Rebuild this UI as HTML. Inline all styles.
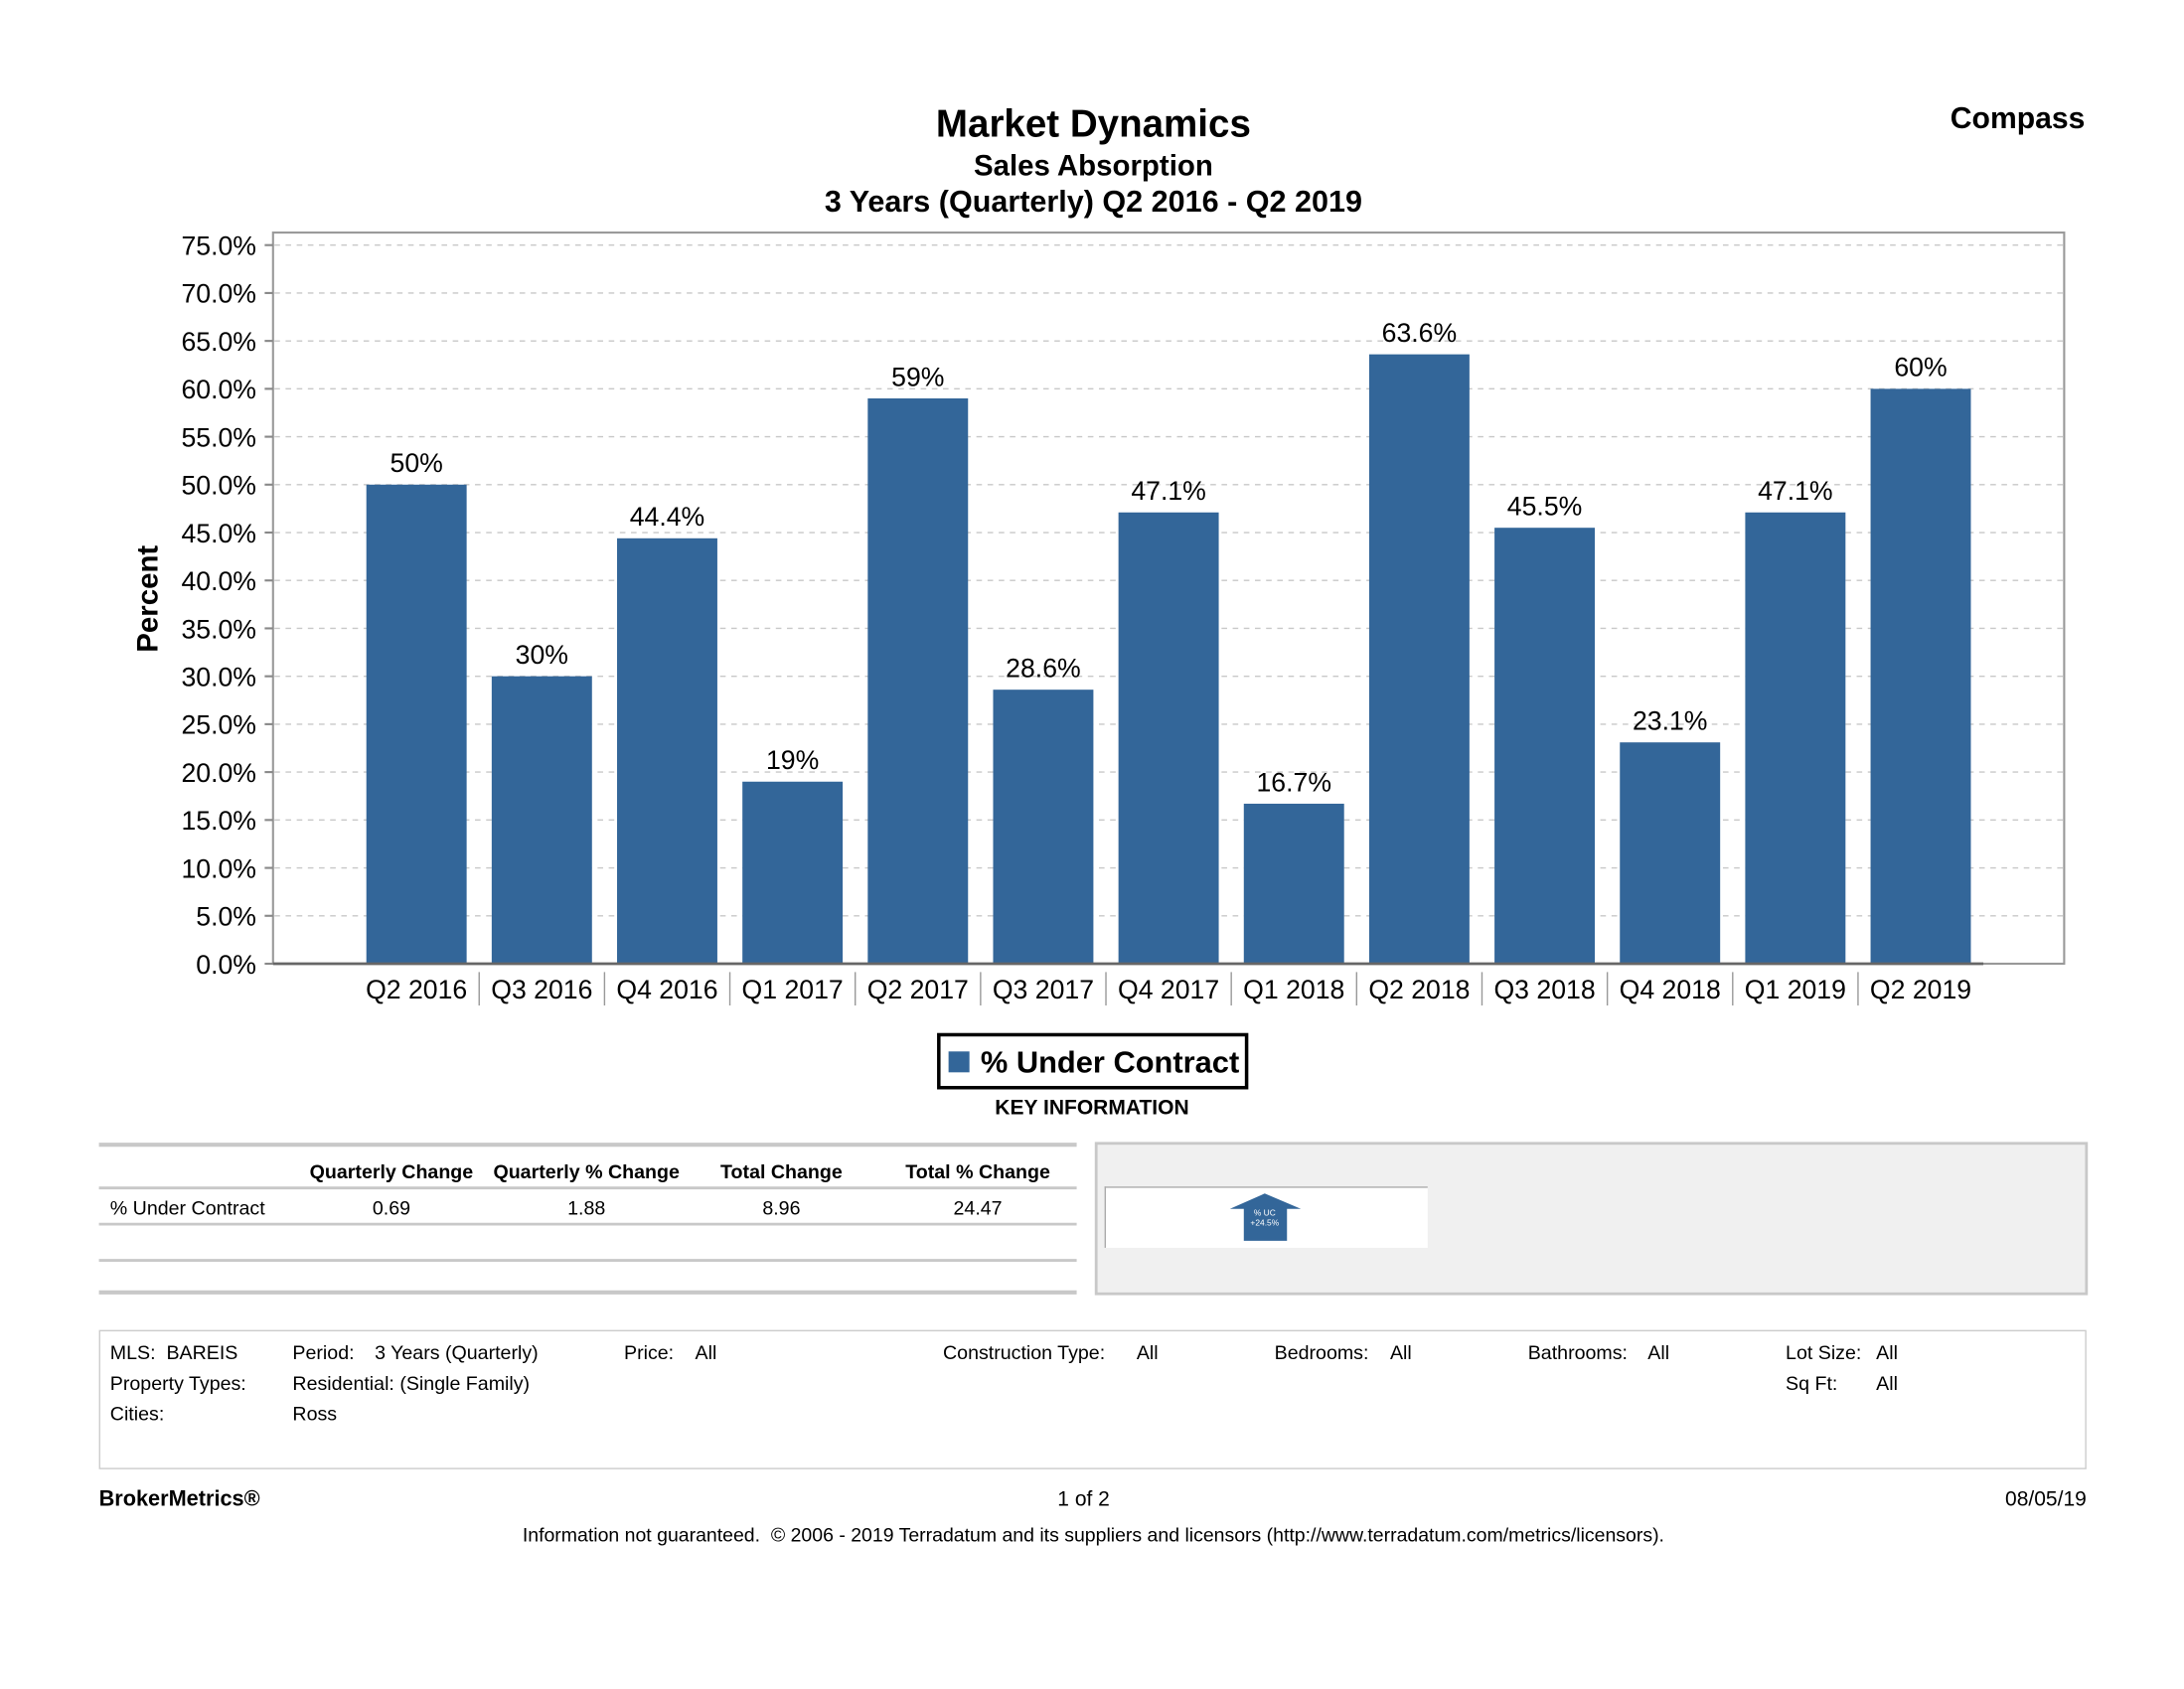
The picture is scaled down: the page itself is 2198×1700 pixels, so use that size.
<!DOCTYPE html>
<html><head><meta charset="utf-8"><style>
html,body{margin:0;padding:0;background:#fff;}
svg{display:block;font-family:"Liberation Sans",Arial,sans-serif;}
</style></head><body>
<svg id="page" width="2198" height="1700" viewBox="0 0 1568 1212.8" xmlns="http://www.w3.org/2000/svg">
<text x="785" y="98" text-anchor="middle" font-size="27.5" font-weight="bold">Market Dynamics</text>
<text x="785" y="126" text-anchor="middle" font-size="21" font-weight="bold">Sales Absorption</text>
<text x="785" y="152" text-anchor="middle" font-size="21.8" font-weight="bold">3 Years (Quarterly) Q2 2016 - Q2 2019</text>
<text x="1497" y="92" text-anchor="end" font-size="21.5" font-weight="bold">Compass</text>
<rect x="196" y="167" width="1286" height="525" fill="#fff" stroke="#999" stroke-width="1.5"/>
<g id="grid"></g><g id="bars"></g><g id="xaxis"></g>
<text transform="translate(113,430) rotate(-90)" text-anchor="middle" font-size="21" font-weight="bold">Percent</text>
<g>
<rect x="674" y="743" width="221" height="38" fill="#fff" stroke="#000" stroke-width="2.5"/>
<rect x="681" y="755" width="15" height="15" fill="#336699"/>
<text x="704" y="770" font-size="22" font-weight="bold">% Under Contract</text>
</g>
<text x="784" y="800" text-anchor="middle" font-size="15" font-weight="bold">KEY INFORMATION</text>
<g font-size="14">
<line x1="71" y1="822" x2="773" y2="822" stroke="#c8c8c8" stroke-width="3"/>
<text x="281" y="846" text-anchor="middle" font-weight="bold">Quarterly Change</text>
<text x="421" y="846" text-anchor="middle" font-weight="bold">Quarterly % Change</text>
<text x="561" y="846" text-anchor="middle" font-weight="bold">Total Change</text>
<text x="702" y="846" text-anchor="middle" font-weight="bold">Total % Change</text>
<line x1="71" y1="853" x2="773" y2="853" stroke="#c8c8c8" stroke-width="2"/>
<text x="79" y="872">% Under Contract</text>
<text x="281" y="872" text-anchor="middle">0.69</text>
<text x="421" y="872" text-anchor="middle">1.88</text>
<text x="561" y="872" text-anchor="middle">8.96</text>
<text x="702" y="872" text-anchor="middle">24.47</text>
<line x1="71" y1="879" x2="773" y2="879" stroke="#c8c8c8" stroke-width="2"/>
<line x1="71" y1="905" x2="773" y2="905" stroke="#c8c8c8" stroke-width="2"/>
<line x1="71" y1="928" x2="773" y2="928" stroke="#c8c8c8" stroke-width="3"/>
</g>
<g>
<rect x="787" y="821" width="711" height="108" fill="#f0f0f0" stroke="#c8c8c8" stroke-width="2"/>
<rect x="793" y="852" width="232" height="44" fill="#fff"/>
<line x1="793" y1="852.5" x2="1025" y2="852.5" stroke="#aaa" stroke-width="1"/>
<line x1="793.5" y1="852" x2="793.5" y2="896" stroke="#aaa" stroke-width="1"/>
<polygon points="908,857 934,868 924,868 924,891 893,891 893,868 883,868" fill="#336699"/>
<text x="908" y="873" text-anchor="middle" font-size="6" fill="#fff">% UC</text>
<text x="908" y="880" text-anchor="middle" font-size="6" fill="#fff">+24.5%</text>
</g>
<g font-size="14">
<rect x="71.5" y="955.5" width="1426" height="99" fill="#fff" stroke="#ccc" stroke-width="1"/>
<text x="79" y="976">MLS:&#160; BAREIS</text>
<text x="210" y="976">Period:</text><text x="269" y="976">3 Years (Quarterly)</text>
<text x="448" y="976">Price:</text><text x="499" y="976">All</text>
<text x="677" y="976">Construction Type:</text><text x="816" y="976">All</text>
<text x="915" y="976">Bedrooms:</text><text x="998" y="976">All</text>
<text x="1097" y="976">Bathrooms:</text><text x="1183" y="976">All</text>
<text x="1282" y="976">Lot Size:</text><text x="1347" y="976">All</text>
<text x="79" y="998">Property Types:</text><text x="210" y="998">Residential: (Single Family)</text>
<text x="1282" y="998">Sq Ft:</text><text x="1347" y="998">All</text>
<text x="79" y="1020">Cities:</text><text x="210" y="1020">Ross</text>
</g>
<text x="71" y="1081" font-size="15.5" font-weight="bold">BrokerMetrics®</text>
<text x="778" y="1081" text-anchor="middle" font-size="15">1 of 2</text>
<text x="1498" y="1081" text-anchor="end" font-size="15">08/05/19</text>
<text x="785" y="1107" text-anchor="middle" font-size="13.9">Information not guaranteed.&#160; © 2006 - 2019 Terradatum and its suppliers and licensors (http://www.terradatum.com/metrics/licensors).</text>
</svg>
<script>
const categories = ["Q2 2016","Q3 2016","Q4 2016","Q1 2017","Q2 2017","Q3 2017","Q4 2017","Q1 2018","Q2 2018","Q3 2018","Q4 2018","Q1 2019","Q2 2019"];
const values = [50, 30, 44.4, 19, 59, 28.6, 47.1, 16.7, 63.6, 45.5, 23.1, 47.1, 60];
const valueLabels = ["50%","30%","44.4%","19%","59%","28.6%","47.1%","16.7%","63.6%","45.5%","23.1%","47.1%","60%"];
const yTicks = [0,5,10,15,20,25,30,35,40,45,50,55,60,65,70,75];

const NS = "http://www.w3.org/2000/svg";
const plotBottom = 692, plotTop75 = 176, yMax = 75;
const bandStart = 254, bandEnd = 1424;
function yScale(v){ return plotBottom - (v / yMax) * (plotBottom - plotTop75); }
const step = (bandEnd - bandStart) / categories.length;
function xCenter(i){ return bandStart + step * (i + 0.5); }
function mk(tag, attrs, parent){ const e = document.createElementNS(NS, tag); for (const k in attrs) e.setAttribute(k, attrs[k]); parent.appendChild(e); return e; }

const grid = document.getElementById('grid');
yTicks.forEach(t => {
  const y = yScale(t);
  if (t > 0) {
    const gl = mk('line', {x1:197, x2:1481, y1:y, y2:y, stroke:'#c8c8c8', 'stroke-width':1, 'stroke-dasharray':'4,4'}, grid);
    
    
  }
  mk('line', {x1:190, x2:196, y1:y, y2:y, stroke:'#888', 'stroke-width':1.5}, grid);
  const lab = mk('text', {x:184, y:y + 7, 'text-anchor':'end', 'font-size':19}, grid);
  lab.textContent = t.toFixed(1) + '%';
  
  
});

const bars = document.getElementById('bars');
const barW = 72;
values.forEach((v, i) => {
  const cx = xCenter(i), y = yScale(v);
  const r = mk('rect', {x:cx - barW/2, y:y, width:barW, height:plotBottom - y, fill:'#336699'}, bars);
  
  
  const t = mk('text', {x:cx, y:y - 9, 'text-anchor':'middle', 'font-size':19}, bars);
  t.textContent = valueLabels[i];
  
  
});

const xa = document.getElementById('xaxis');
mk('line', {x1:196, x2:bandEnd, y1:plotBottom, y2:plotBottom, stroke:'#666', 'stroke-width':2}, xa);
categories.forEach((c, i) => {
  const cx = xCenter(i);
  const t = mk('text', {x:cx, y:717, 'text-anchor':'middle', 'font-size':19}, xa);
  t.textContent = c;
  
  
  if (i > 0) mk('line', {x1:cx - step/2, x2:cx - step/2, y1:698, y2:722, stroke:'#999', 'stroke-width':1}, xa);
});
</script>
</body></html>
